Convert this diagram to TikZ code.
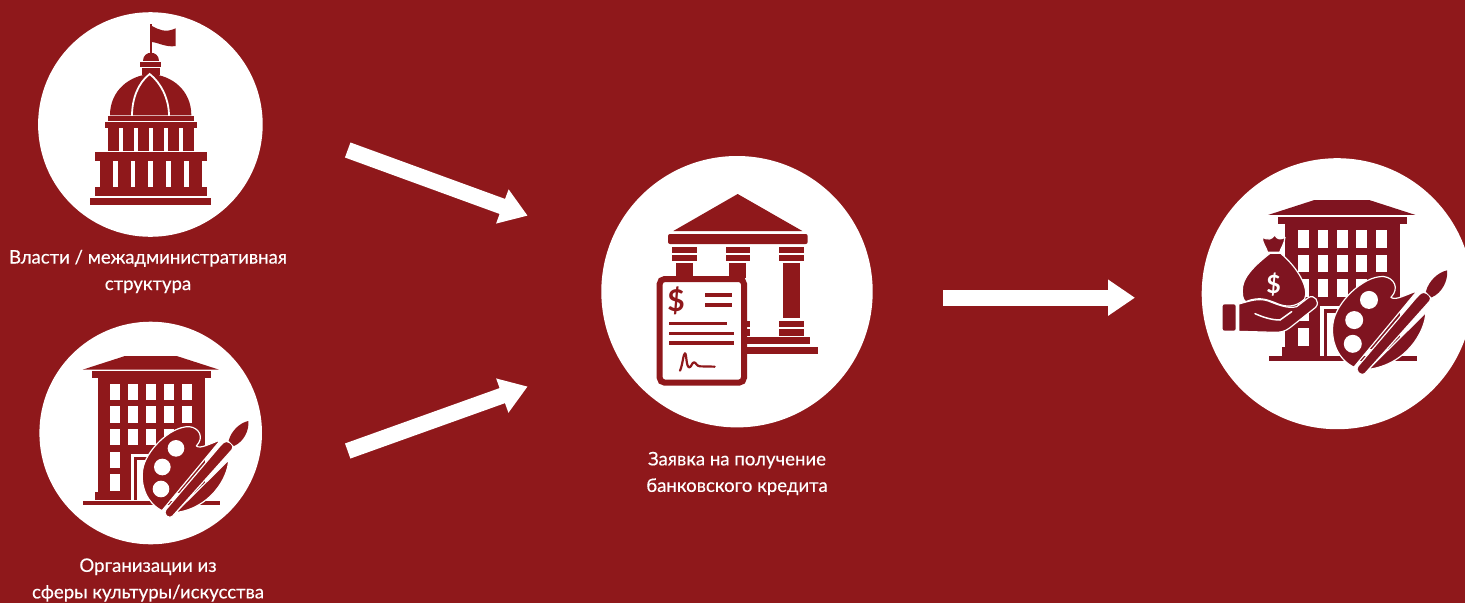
\documentclass[tikz,border=0pt]{standalone}
\usepackage{fontspec}
\setmainfont{Lato}
\newfontfamily\lblfont{Lato}[FakeBold=0.4]
\usetikzlibrary{arrows.meta}
\definecolor{bgred}{HTML}{8F181B}
\definecolor{darkred}{HTML}{7F1420}
\colorlet{iconcol}{bgred}
\tikzset{
  disc/.style={circle,fill=white,inner sep=0pt,minimum size=#1},
  lbl/.style={text=white,align=center,font=\lblfont\fontsize{18.6}{26.5}\selectfont,inner sep=0pt},
  bigarrow/.style={white,line width=16pt,-{Triangle[length=27pt,width=34.5pt]}},
  ic/.style={fill=iconcol},
  halo/.style={fill=iconcol,draw=white,line width=1.2pt,line join=round},
  dollar/.style={inner sep=0pt,font=\bfseries\fontsize{#1}{#1}\selectfont}
}
\newcommand{\towerpalette}{%
  \fill[ic] (158,149) -- (285,108) -- (440,108) -- (567,149) -- cycle;
  \fill[ic] (186,154) rectangle (544,173);
  \fill[ic] (204,173) rectangle (525,520);
  \fill[ic] (195,516) rectangle (400,540);
  \fill[ic] (160,542) rectangle (570,555);
  \foreach \xa in {241,295,349,403,457}{
    \foreach \ya in {191,259,327}{
      \fill[white] (\xa,\ya) rectangle (\xa+30,\ya+49);
    }
  }
  \fill[white] (241,395) rectangle (271,444);
  \fill[white] (241,463) rectangle (271,513);
  \fill[white] (303,403) rectangle (420,541);
  \fill[ic] (312,411) rectangle (420,541);
  \fill[white] (320,420) rectangle (420,541);
  \filldraw[halo] (396,572) .. controls (352,550) and (331,500) .. (338,450)
    .. controls (345,395) and (420,318) .. (478,320)
    .. controls (507,323) and (524,352) .. (499,378)
    .. controls (512,388) and (540,370) .. (572,360) -- cycle;
  \filldraw[halo] (596,420) .. controls (594,475) and (540,565) .. (436,578) -- cycle;
  \filldraw[halo,rounded corners=4pt] (400,578) -- (576,371) -- (590,360) -- (614,380) -- (600,396) -- (420,597) -- cycle;
  \fill[ic] (596,362) .. controls (604,332) and (630,308) .. (655,303)
    .. controls (658,330) and (642,365) .. (612,378) -- cycle;
  \fill[white] (438,385) circle (25);
  \fill[white] (397,441) circle (25);
  \fill[white] (393,507) circle (25);
}
\begin{document}
\begin{tikzpicture}[x=1pt,y=-1pt]
\useasboundingbox (0,0) rectangle (1465,603);
\clip (0,0) rectangle (1465,603);
\fill[bgred] (0,0) rectangle (1465,603);

\node[disc=224.6pt] (gov) at (150.4,124.5) {};
\node[disc=222.6pt] (org) at (150.7,433) {};
\node[disc=271.4pt] (app) at (737,291.7) {};
\node[disc=271pt] (res) at (1337.2,293.7) {};

% capitol
\begin{scope}[shift={(30,0)},scale=0.33333]
  \fill[ic] (360,72) rectangle (366,165);
  \fill[ic] (366,78) .. controls (385,88) and (405,100) .. (437,85) -- (437,138)
    .. controls (410,143) and (385,128) .. (366,126) -- cycle;
  \fill[ic] (338,183) .. controls (338,150) and (386,150) .. (386,183) -- cycle;
  \fill[ic] (331,186) rectangle (394,201);
  \fill[ic] (335,205) rectangle (390,226);
  \fill[ic] (240,346) .. controls (240,270) and (300,226) .. (362,222)
    .. controls (425,226) and (484,270) .. (484,346) -- cycle;
  \draw[white,line width=1.8pt] (306,348) .. controls (306,295) and (325,248) .. (359,222)
    .. controls (392,248) and (417,295) .. (417,348);
  \fill[ic] (235,349) rectangle (491,364);
  \fill[ic] (224,367) rectangle (501,384);
  \foreach \xa/\xb in {233/267,279/312,323/357,368/401,413/447,458/491}{
    \fill[ic] (\xa,384) rectangle (\xb,453);
  }
  \fill[ic] (194,456) rectangle (530,483);
  \fill[ic] (210,483) rectangle (515,560);
  \foreach \xa in {249,302,355,408,462}{
    \fill[white] (\xa,484) rectangle (\xa+14,560);
  }
  \fill[ic] (194,560) rectangle (530,587);
  \fill[ic] (180,593) rectangle (544,615);
\end{scope}

% tower with palette
\begin{scope}[shift={(30,320)},scale=0.33333]
  \towerpalette
\end{scope}

% bank with document
\begin{scope}[shift={(600,155)},scale=0.33333]
  \fill[ic] (220,228) -- (413,117) -- (607,228) -- cycle;
  \fill[ic,rounded corners=2pt] (204,237) rectangle (623,267);
  \foreach \xa in {217,377,537}{
    \fill[ic] (\xa,276) rectangle (\xa+74,293);
    \fill[ic] (\xa,299) rectangle (\xa+74,318);
  }
  \fill[ic] (228,325) rectangle (279,370);
  \fill[ic] (388,325) rectangle (439,370);
  \fill[ic] (549,325) rectangle (600,490);
  \fill[ic] (537,498) rectangle (611,517);
  \fill[ic] (537,523) rectangle (611,542);
  \fill[ic] (435,498) rectangle (451,517);
  \fill[ic] (435,523) rectangle (451,542);
  \fill[ic] (435,547) rectangle (631,567);
  \fill[ic] (435,577) rectangle (653,597);
  \draw[draw=iconcol,fill=white,line width=6pt,rounded corners=5pt] (179,372) rectangle (432,683);
  \fill[ic] (315,413) rectangle (397,425);
  \fill[ic] (315,443) rectangle (397,455);
  \fill[ic] (208,500) rectangle (382,511);
  \fill[ic] (208,530) rectangle (401,541);
  \fill[ic] (208,559) rectangle (401,570);
  \draw[iconcol,line width=2.2pt,line cap=round,line join=round] (240,647) .. controls (248,630) and (250,595) .. (255,595)
    .. controls (260,595) and (258,637) .. (268,637) .. controls (274,637) and (276,622) .. (282,622)
    .. controls (288,622) and (290,634) .. (300,634) -- (344,635);
\end{scope}
\node[dollar=30,text=iconcol] (appdollar) at (676,300.5) {\$};

% result icon
\colorlet{iconcol}{darkred}
\begin{scope}[shift={(1211.3,161.3)},scale=0.36]
  \towerpalette
\end{scope}
\begin{scope}[shift={(1200,155)},scale=0.33333]
  \filldraw[halo] (210,295) .. controls (165,330) and (122,370) .. (127,412)
    .. controls (127,428) and (132,438) .. (138,440)
    .. controls (180,422) and (205,435) .. (240,449)
    .. controls (270,458) and (292,452) .. (314,432)
    .. controls (328,400) and (295,340) .. (242,295) -- cycle;
  \filldraw[halo] (203,292) .. controls (198,275) and (187,265) .. (187,247)
    .. controls (205,256) and (215,253) .. (224,240)
    .. controls (232,254) and (242,254) .. (255,247)
    .. controls (253,268) and (243,278) .. (239,292) -- cycle;
  \fill[ic,rounded corners=2pt] (68,448) rectangle (107,527);
  \filldraw[halo] (116,447) .. controls (150,438) and (175,428) .. (205,438)
    .. controls (235,450) and (265,462) .. (290,455) -- (325,428)
    .. controls (342,416) and (362,440) .. (347,457) -- (270,518)
    .. controls (255,530) and (240,532) .. (225,532) -- (116,529) -- cycle;
  \draw[white,line width=1.5pt,line cap=round] (165,476) .. controls (190,487) and (215,495) .. (240,495) -- (275,470);
\end{scope}
\node[dollar=25,text=white] (resdollar) at (1273.5,285) {\$};

% arrows
\coordinate (a1s) at (347.7,150);
\coordinate (a1e) at (527.7,215.7);
\coordinate (a2s) at (347.7,451);
\coordinate (a2e) at (527.7,386.5);
\coordinate (a3s) at (943.3,297.7);
\coordinate (a3e) at (1135,297.7);
\draw[bigarrow] (a1s) -- (a1e);
\draw[bigarrow] (a2s) -- (a2e);
\draw[bigarrow] (a3s) -- (a3e);

% labels
\node[lbl] (govl) at (148,271.5) {Власти / межадминистративная\\структура};
\node[lbl] (orgl) at (148,580) {Организации из\\сферы культуры/искусства};
\node[lbl] (appl) at (737,473.5) {Заявка на получение\\банковского кредита};
\end{tikzpicture}
\end{document}
